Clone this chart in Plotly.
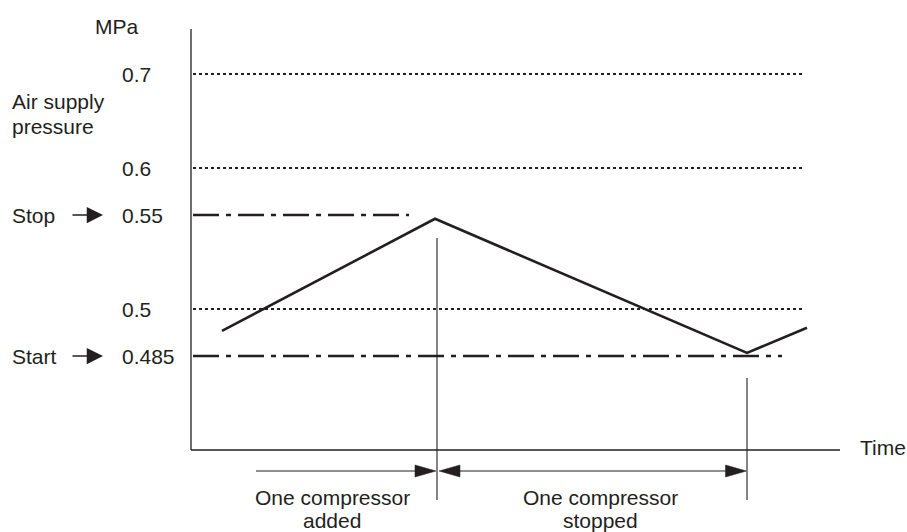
import numpy as np
import plotly.graph_objects as go

# ---------------- data ----------------
pressure_time = [3.1, 24.4, 55.6, 61.6]          # arbitrary time units
pressure_mpa = [0.493, 0.548, 0.486, 0.494]

level_values = [0.7, 0.6, 0.55, 0.5, 0.485]
level_labels = ["0.7", "0.6", "0.55", "0.5", "0.485"]
level_end_time = [61.4, 61.4, 21.8, 61.4, 59.1]
level_kind = ["limit", "limit", "setpoint", "limit", "setpoint"]

setpoint_names = ["Stop", "Start"]
setpoint_values = [0.55, 0.485]

event_times = [24.6, 55.6]
span_start_time = 6.5
span_label_lines = [["One compressor", "added"], ["One compressor", "stopped"]]
span_label_centers = [14.1, 40.9]

y_title_lines = ["Air supply", "pressure"]
y_unit = "MPa"
x_title = "Time"

# schematic (non-linear) pressure scale used by the diagram
SCALE_MPA = [0.485, 0.5, 0.55, 0.6, 0.7]
SCALE_UNITS = [2, 3, 5, 6, 8]


def ypos(p):
    return float(np.interp(p, SCALE_MPA, SCALE_UNITS))


# ---------------- geometry / style ----------------
W, H = 907, 532
PX_T, PX_U = 10.0, 47.0
AX_X0_PX, AX_Y0_PX = 191, 450
L_M, R_M, T_M, B_M = 181, 67, 29, 0
x_rng = [-(AX_X0_PX - L_M) / PX_T, (W - R_M - AX_X0_PX) / PX_T]
y_rng = [-(H - B_M - AX_Y0_PX) / PX_U, (AX_Y0_PX - T_M) / PX_U]
plot_w = W - L_M - R_M
plot_h = H - T_M - B_M

INK = "#231f20"
FONT = dict(family="Liberation Sans, Arial, sans-serif", size=21, color=INK)


def px2paper_x(px):
    return (px - L_M) / plot_w


def px2paper_y(py):
    return (H - B_M - py) / plot_h


def px2u(py):
    return (AX_Y0_PX - py) / PX_U


fig = go.Figure()

# axes
fig.add_trace(go.Scatter(x=[0, x_rng[1]], y=[0, 0], mode="lines",
                         line=dict(color=INK, width=1.3), hoverinfo="skip"))
fig.add_trace(go.Scatter(x=[0, 0], y=[0, y_rng[1]], mode="lines",
                         line=dict(color=INK, width=1.3), hoverinfo="skip"))

# reference levels
for v, end, kind in zip(level_values, level_end_time, level_kind):
    if kind == "limit":
        ln = dict(color=INK, width=2, dash="dot")
    else:
        ln = dict(color=INK, width=2.6, dash="26px,7px,5px,7px")
    fig.add_trace(go.Scatter(x=[0.2, end], y=[ypos(v), ypos(v)], mode="lines",
                             line=ln, hoverinfo="skip"))

# pressure curve
fig.add_trace(go.Scatter(x=pressure_time, y=[ypos(p) for p in pressure_mpa],
                         mode="lines", line=dict(color=INK, width=2.6),
                         hoverinfo="skip"))

# event marker lines
event_tops = [px2u(238), px2u(378)]
event_bottom = px2u(500)
for t, top in zip(event_times, event_tops):
    fig.add_trace(go.Scatter(x=[t, t], y=[event_bottom, top], mode="lines",
                             line=dict(color=INK, width=1.1), hoverinfo="skip"))

# span arrows
arrow_y = px2u(471)
head_len = 2.1
head_half = 6 / PX_U


def head(tip, direction):
    base = tip - direction * head_len
    return go.Scatter(x=[tip, base, base, tip],
                      y=[arrow_y, arrow_y + head_half, arrow_y - head_half, arrow_y],
                      mode="lines", fill="toself", fillcolor=INK,
                      line=dict(color=INK, width=0.5), hoverinfo="skip")


t_add, t_stop = event_times
fig.add_trace(go.Scatter(x=[span_start_time, t_add - 0.1 - head_len + 0.2],
                         y=[arrow_y, arrow_y], mode="lines",
                         line=dict(color=INK, width=1.1), hoverinfo="skip"))
fig.add_trace(head(t_add - 0.1, 1))
fig.add_trace(go.Scatter(x=[t_add + 0.2 + head_len - 0.2, t_stop - 0.05 - head_len + 0.2],
                         y=[arrow_y, arrow_y], mode="lines",
                         line=dict(color=INK, width=1.1), hoverinfo="skip"))
fig.add_trace(head(t_add + 0.2, -1))
fig.add_trace(head(t_stop - 0.05, 1))

ann = []
# pressure tick labels
for v, lab in zip(level_values, level_labels):
    ann.append(dict(x=px2paper_x(120), xref="paper", y=ypos(v), yref="y",
                    text=lab, showarrow=False, xanchor="left", yanchor="middle",
                    font=FONT))
# setpoint names with arrows
for name, v in zip(setpoint_names, setpoint_values):
    ann.append(dict(x=px2paper_x(10), xref="paper", y=ypos(v), yref="y",
                    text=name, showarrow=False, xanchor="left", yanchor="middle",
                    font=FONT))
    ann.append(dict(x=px2paper_x(103), xref="paper", y=ypos(v), yref="y",
                    text="", showarrow=True, axref="pixel", ayref="pixel",
                    ax=-32, ay=0, arrowhead=2, arrowsize=2.5, arrowwidth=1.3,
                    arrowcolor=INK))
# axis titles
ann.append(dict(x=px2paper_x(117), xref="paper", y=px2paper_y(27), yref="paper",
                text=y_unit, showarrow=False, xanchor="center", yanchor="middle",
                font=FONT))
for line, py in zip(y_title_lines, [102, 126]):
    ann.append(dict(x=px2paper_x(10), xref="paper", y=px2paper_y(py), yref="paper",
                    text=line, showarrow=False, xanchor="left", yanchor="middle",
                    font=FONT))
ann.append(dict(x=px2paper_x(858), xref="paper", y=px2paper_y(447), yref="paper",
                text=x_title, showarrow=False, xanchor="left", yanchor="middle",
                font=FONT))
# span labels
for cx, lines in zip(span_label_centers, span_label_lines):
    for line, py in zip(lines, [497, 520]):
        ann.append(dict(x=cx, xref="x", y=px2u(py), yref="y", text=line,
                        showarrow=False, xanchor="center", yanchor="middle",
                        font=FONT))

fig.update_layout(
    width=W, height=H,
    margin=dict(l=L_M, r=R_M, t=T_M, b=B_M, pad=0),
    paper_bgcolor="white", plot_bgcolor="white",
    showlegend=False,
    xaxis=dict(range=x_rng, visible=False, fixedrange=True),
    yaxis=dict(range=y_rng, visible=False, fixedrange=True),
    annotations=ann,
    font=FONT,
)

fig.write_html(
    "out.html",
    config={"displayModeBar": False},
    post_script="document.body.style.margin='0px';document.body.style.overflow='hidden';",
)
